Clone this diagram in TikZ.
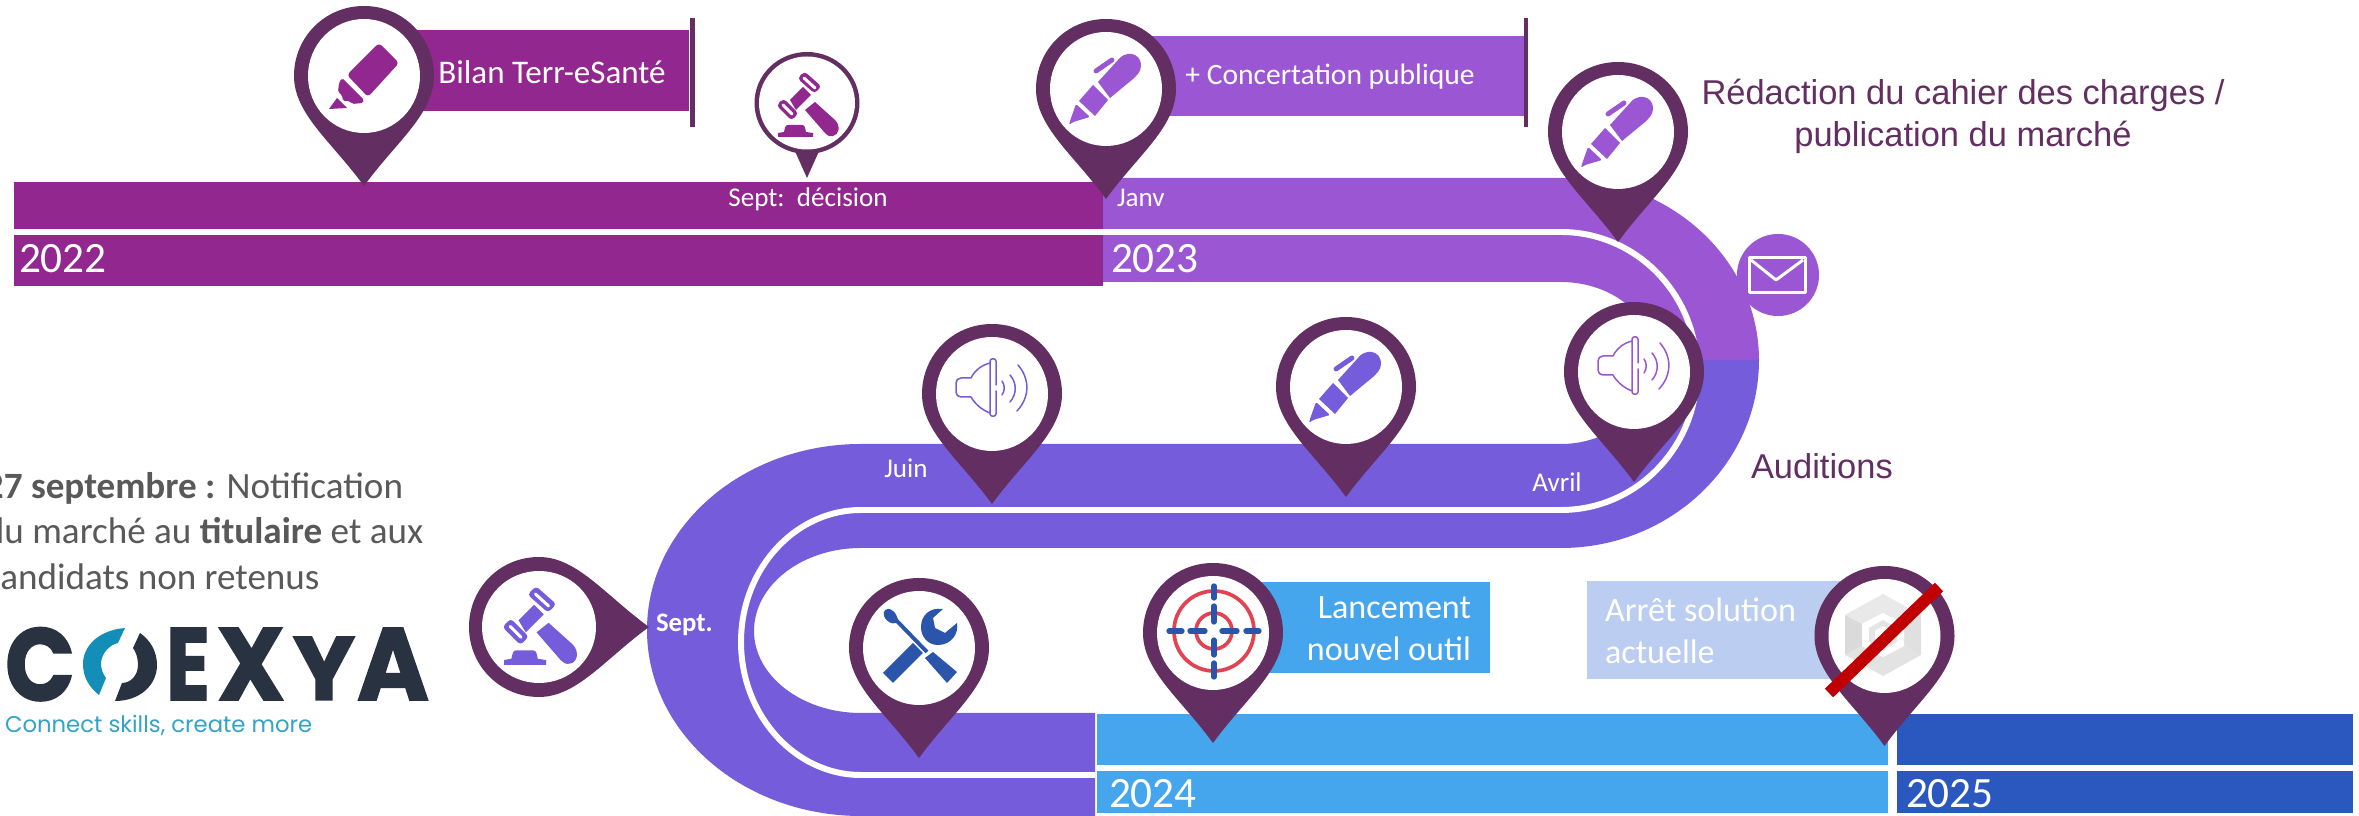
\documentclass[tikz,border=0pt]{standalone}
\usepackage{fontspec}
\setmainfont{Carlito}
\newfontfamily\arialf{Liberation Sans}
\newfontfamily\logof{Poppins}
\newfontfamily\logoh{Poppins}[UprightFont={* Bold},FakeBold=1.6]
\definecolor{purpA}{RGB}{146,39,143}
\definecolor{purpB}{RGB}{155,87,211}
\definecolor{purpC}{RGB}{117,92,219}
\definecolor{blueA}{RGB}{69,165,237}
\definecolor{blueB}{RGB}{43,88,191}
\definecolor{blueI}{RGB}{43,85,170}
\definecolor{bluePale}{RGB}{187,205,240}
\definecolor{pindark}{RGB}{99,46,98}
\definecolor{redT}{RGB}{226,66,82}
\definecolor{redX}{RGB}{192,0,0}
\definecolor{greyT}{RGB}{89,89,89}
\definecolor{logoD}{RGB}{41,50,65}
\definecolor{logoB}{RGB}{18,142,184}
\definecolor{logoT}{RGB}{53,162,200}
\tikzset{
  lbl/.style={inner sep=0pt,outer sep=0pt,text=white},
  yearlbl/.style={lbl,font=\fontsize{12.3}{14}\selectfont,anchor=base west},
  smalllbl/.style={lbl,font=\fontsize{7.7}{9}\selectfont},
  tablbl/.style={lbl,font=\fontsize{9.7}{12}\selectfont},
  darklbl/.style={inner sep=0pt,outer sep=0pt,text=pindark,font=\arialf\fontsize{9.8}{12}\selectfont},
  logolbl/.style={inner sep=0pt,outer sep=0pt,text=logoD,anchor=south west},
  pics/pinmark/.style={code={
    \fill[pindark] (0,110) .. controls (-32,66) and (-70,38) .. (-70,0)
      .. controls (-70,-39) and (-39,-70) .. (0,-70)
      .. controls (39,-70) and (70,-39) .. (70,0)
      .. controls (70,38) and (32,66) .. (0,110) -- cycle;
    \fill[white] (0,0) ellipse [x radius=56,y radius=57];
  }},
  pics/smallpin/.style={code={
    \fill[pindark] (0,75) -- (-13,46) -- (13,46) -- cycle;
    \fill[pindark] (0,0) ellipse [x radius=52.5,y radius=51];
    \fill[white] (0,0) ellipse [x radius=48,y radius=46.5];
  }},
  pics/hlicon/.style={code={
    \fill[#1,rounded corners=1pt] (15,-33) -- (35,-13) -- (4,21) -- (-17,-1) -- cycle;
    \fill[#1,rounded corners=0.5pt] (-22,2) -- (0,24) -- (-1,27) -- (-12,28) -- (-14,25) -- (-21,25) -- (-22,19) -- (-26,16) -- (-25,7) -- cycle;
    \fill[#1] (-27,22) -- (-17,32) -- (-35,33) -- cycle;
  }},
  pics/penicon/.style={code={
    \fill[#1] (-8,-7) -- (12,-29) .. controls (18,-38) and (35,-38) .. (35,-23) .. controls (35,-17) and (30,-13) .. (27,-10) -- (4,9) -- cycle;
    \fill[#1] (-13,-4) -- (2,11) -- (-11,27) -- (-27,12) -- cycle;
    \fill[#1,rounded corners=0.4pt] (-30,15) -- (-16,28) -- (-33,33) -- (-37,36) -- (-36,32) -- cycle;
    \draw[#1,line width=1.4pt,line cap=round] (-10,-18) -- (6,-29);
  }},
  pics/gavelicon/.style={code={
    \fill[#1] (-17,-3) -- (-4,-16) -- (4,-8) -- (-11,7) -- cycle;
    \fill[#1,rounded corners=1pt] (-23.5,-4.5) -- (-30.5,2.5) -- (-15.5,17.5) -- (-8.5,10.5) -- cycle;
    \fill[#1,rounded corners=1pt] (-2.5,-31.5) -- (-9.5,-24.5) -- (7.5,-9.5) -- (14.5,-16.5) -- cycle;
    \draw[white,line width=0.85pt,line cap=round] (-24,2) -- (-15,11);
    \draw[white,line width=0.85pt,line cap=round] (-3,-25) -- (8,-15);
    \fill[#1] (-2,7) -- (8,-1) -- (28,17) .. controls (34,23) and (32,32) .. (26,33) .. controls (22,34) and (20,32) .. (18,30) -- cycle;
    \fill[#1] (-29,34) -- (-29,30) -- (-23,29) .. controls (-22,25) and (-22,22) .. (-19,22) -- (-5,22) .. controls (-2,22) and (-2,25) .. (-1,29) -- (6,30) -- (6,34) -- cycle;
  }},
  pics/spkicon/.style={code={
    \draw[#1,line width=0.43pt,line cap=round,line join=round]
      (-21,-16) -- (-31,-16) .. controls (-34,-16) and (-36,-14) .. (-36,-11) -- (-36,-2) .. controls (-36,1) and (-34,3) .. (-31,3) -- (-21,3)
      (-21,-16) .. controls (-17,-24) and (-10,-29) .. (-2,-31)
      (-21,3) .. controls (-17,10) and (-10,16) .. (-2,19)
      (4,-9) -- (4,-33) .. controls (4,-36) and (-2,-36) .. (-2,-33) -- (-2,20) .. controls (-2,23) and (4,23) .. (4,20) -- (4,-3)
      (10,-13) .. controls (13,-9) and (13,-3) .. (10,1)
      (18,-19) .. controls (25,-11) and (25,0) .. (18,8)
      (26,-29) .. controls (38,-15) and (38,3) .. (25,17);
  }},
}
\begin{document}
\begin{tikzpicture}[x=0.01cm,y=-0.01cm]
\path[use as bounding box,clip] (0,0) rectangle (2359,816);
\fill[white] (0,0) rectangle (2359,816);
% tabs
\fill[purpA] (364,30) rectangle (689,111);
\fill[pindark] (690,18) rectangle (695,127);
\fill[purpB] (1106,36) rectangle (1524,116);
\fill[pindark] (1523.5,18) rectangle (1528,127);
\fill[blueA] (1213,582) rectangle (1490,673);
\fill[bluePale] (1587,581) rectangle (1860,679);
% 2022 bars
\fill[purpA] (14,182) rectangle (1103,229);
\fill[purpA] (14,235) rectangle (1103,286);
% upper curved band
\fill[purpB] (1103,178) -- (1561,178) .. controls (1670,178) and (1759,259.5) .. (1759,360)
  -- (1655,360) .. controls (1655,317) and (1613,282) .. (1561,282) -- (1103,282) -- cycle;
% lower curved band
\fill[purpC] (1759,360) .. controls (1759,464) and (1670,548) .. (1561,548) -- (861,548)
  .. controls (802,548) and (754,585) .. (754,631) .. controls (754,676) and (802,713) .. (861,713)
  -- (1095,713) -- (1095,816) -- (861,816)
  .. controls (743,816) and (647,733) .. (647,630) .. controls (647,527) and (743,444) .. (861,444)
  -- (1561,444) .. controls (1613,444) and (1655,406) .. (1655,360) -- cycle;
% white line along the road
\draw[white,line width=1.7pt] (14,232) -- (1561,232) .. controls (1636,232) and (1697,294) .. (1697,371)
  .. controls (1697,448) and (1636,510) .. (1561,510) -- (861,510)
  .. controls (795,510) and (741,569) .. (741,642) .. controls (741,715) and (795,775) .. (861,775) -- (1095,775);
% blue bars
\fill[blueA] (1097,714) rectangle (1888,765);
\fill[blueA] (1097,771) rectangle (1888,813);
\fill[blueB] (1897,714) rectangle (2353,765);
\fill[blueB] (1897,771) rectangle (2353,813);
% envelope
\node[circle,fill=purpB,minimum size=0.82cm,inner sep=0pt] (env) at (1778,275) {};
\draw[white,line width=0.85pt,line join=round] (1749,258) rectangle (1805,293);
\draw[white,line width=0.85pt,line join=round] (1751,260) -- (1776,280) -- (1803,260);
% pins
\pic (pA) at (364,76) {pinmark};
\pic (iA) at (364,76) {hlicon=purpA};
\pic (pG) at (807,103) {smallpin};
\pic (iG) at (807,103) {gavelicon=purpA};
\pic (pB) at (1106,89) {pinmark};
\pic (iB) at (1106,89) {penicon=purpB};
\pic (pC) at (1618,132) {pinmark};
\pic (iC) at (1618,132) {penicon=purpB};
\pic (pD) at (1634,372) {pinmark};
\pic (iD) at (1634,372) {spkicon=purpB};
\pic (pE) at (1346,387) {pinmark};
\pic (iE) at (1346,387) {penicon=purpC};
\pic (pF) at (992,394) {pinmark};
\pic (iF) at (992,394) {spkicon=purpC};
\pic[rotate=90] (pH) at (539,627) {pinmark};
\pic[scale=1.2] (iH) at (539,624) {gavelicon=purpC};
% tools
\pic (pI) at (919,648) {pinmark};
\begin{scope}[shift={(919,648)}]
  \fill[blueI] (-6,-5) -- (4,5) -- (-26,35) -- (-36,25) -- cycle;
  \fill[blueI] (24,-39) .. controls (10,-41) and (2,-32) .. (2,-21) .. controls (2,-11) and (9,-3) .. (19,-3)
     .. controls (32,-3) and (40,-14) .. (38,-25) -- (26,-15) -- (16,-20) -- (14,-30) -- cycle;
  \draw[white,line width=1.9pt] (-24,-29) -- (8,4);
  \draw[blueI,line width=1.1pt] (-24,-29) -- (8,4);
  \fill[blueI,rounded corners=0.8pt] (-36,-36) -- (-31,-40) -- (-24,-36) -- (-20,-26) -- (-27,-24) -- (-34,-29) -- cycle;
  \fill[blueI] (6,10) -- (14,4) -- (38,24) -- (28,35) -- cycle;
\end{scope}
% target
\pic (pJ) at (1213,633) {pinmark};
\begin{scope}[shift={(1214,631)}]
  \draw[redT,line width=1.05pt] (0,0) circle [radius=40];
  \draw[redT,line width=1.05pt] (0,0) circle [radius=18];
  \draw[blueI,line width=1.5pt,line cap=round]
    (-45,0) -- (-32,0) (-24,0) -- (-9,0) (8,0) -- (23,0) (32,0) -- (45,0)
    (0,-45) -- (0,-33) (0,-25) -- (0,-9) (0,9) -- (0,24) (0,32) -- (0,46);
\end{scope}
% stop
\pic (pK) at (1884.5,636) {pinmark};
\begin{scope}[shift={(1883,635)}]
  \fill[gray!17] (0,-41) -- (38,-20) -- (21,-11) -- (0,-22) -- (-21,-11) -- (-38,-20) -- cycle;
  \fill[gray!24] (38,-20) -- (38,20) -- (21,11) -- (21,-11) -- cycle;
  \fill[gray!29] (-38,-20) -- (-38,20) -- (-21,11) -- (-21,-11) -- cycle;
  \fill[gray!22] (0,41) -- (38,20) -- (21,11) -- (0,22) -- (-21,11) -- (-38,20) -- cycle;
  \fill[white] (0,-22) -- (21,-11) -- (21,11) -- (0,22) -- (-21,11) -- (-21,-11) -- cycle;
  \fill[gray!20] (0,-15) -- (14,-7) -- (14,7) -- (0,15) -- (-14,7) -- (-14,-7) -- cycle;
  \fill[white] (0,-9) -- (8,-4) -- (8,4) -- (0,9) -- (-8,4) -- (-8,-4) -- cycle;
\end{scope}
\draw[redX,line width=3.4pt] (1829,693) -- (1939,587);
% texts on bars
\node[yearlbl] (y22) at (19,273) {2022};
\node[yearlbl] (y23) at (1111,273) {2023};
\node[yearlbl] (y24) at (1109,808) {2024};
\node[yearlbl] (y25) at (1906,808) {2025};
\node[smalllbl] (tsept) at (808,199) {Sept:~~décision};
\node[smalllbl,anchor=west] (tjanv) at (1117,198) {Janv};
\node[smalllbl] (tjuin) at (906,468) {Juin};
\node[smalllbl] (tavril) at (1557,482) {Avril};
\node[smalllbl,font=\fontsize{7.6}{9}\selectfont\bfseries,anchor=west] (tsp) at (656,625) {Sept.};
\node[lbl,font=\fontsize{9.4}{11}\selectfont] (tbilan) at (552,72) {Bilan Terr-eSanté};
\node[lbl,font=\fontsize{8.4}{10}\selectfont] (tconc) at (1330,77) {+ Concertation publique};
\node[tablbl,align=right,anchor=east] (tlanc) at (1471,628.5) {Lancement\\nouvel outil};
\node[tablbl,align=left,anchor=west] (tarr) at (1605,630.5) {Arrêt solution\\actuelle};
\node[darklbl,align=center] (tred) at (1963,116) {Rédaction du cahier des charges /\\publication du marché};
\node[darklbl,anchor=west] (taud) at (1751,466) {Auditions};
\node[inner sep=0pt,outer sep=0pt,text=greyT,align=left,anchor=west,font=\fontsize{10.55}{12.95}\selectfont] (tnot) at (-15,531)
  {\textbf{27 septembre :} Notification\\du marché au \textbf{titulaire} et aux\\candidats non retenus};
% logo
\node[logolbl] (lC) at (5,701) {\resizebox{0.70cm}{0.73cm}{\logoh C}};
\fill[logoB] (125,628) .. controls (100,630) and (83,645) .. (83,664) .. controls (83,678) and (90,688) .. (99,695)
  -- (106,678) .. controls (103,674) and (101,669) .. (101,664) .. controls (101,654) and (109,645) .. (118,643) -- cycle;
\fill[logoD] (140,633) .. controls (150,640) and (157,651) .. (157,665) .. controls (157,685) and (140,701) .. (115,701)
  -- (122,683) .. controls (131,683) and (138,675) .. (138,665) .. controls (138,658) and (136,652) .. (133,648) -- cycle;
\node[logolbl] (lE) at (166,700) {\resizebox{0.44cm}{0.72cm}{\logoh E}};
\node[logolbl] (lX) at (217,700) {\resizebox{0.68cm}{0.72cm}{\logoh X}};
\node[logolbl] (lY) at (293,700) {\resizebox{0.62cm}{0.63cm}{\logoh Y}};
\node[logolbl] (lA) at (357,700) {\resizebox{0.72cm}{0.72cm}{\logoh A}};
\node[inner sep=0pt,outer sep=0pt,text=logoT,anchor=base west] (ltag) at (5,733) {\resizebox{3.07cm}{!}{\logof Connect skills, create more}};
\end{tikzpicture}
\end{document}
